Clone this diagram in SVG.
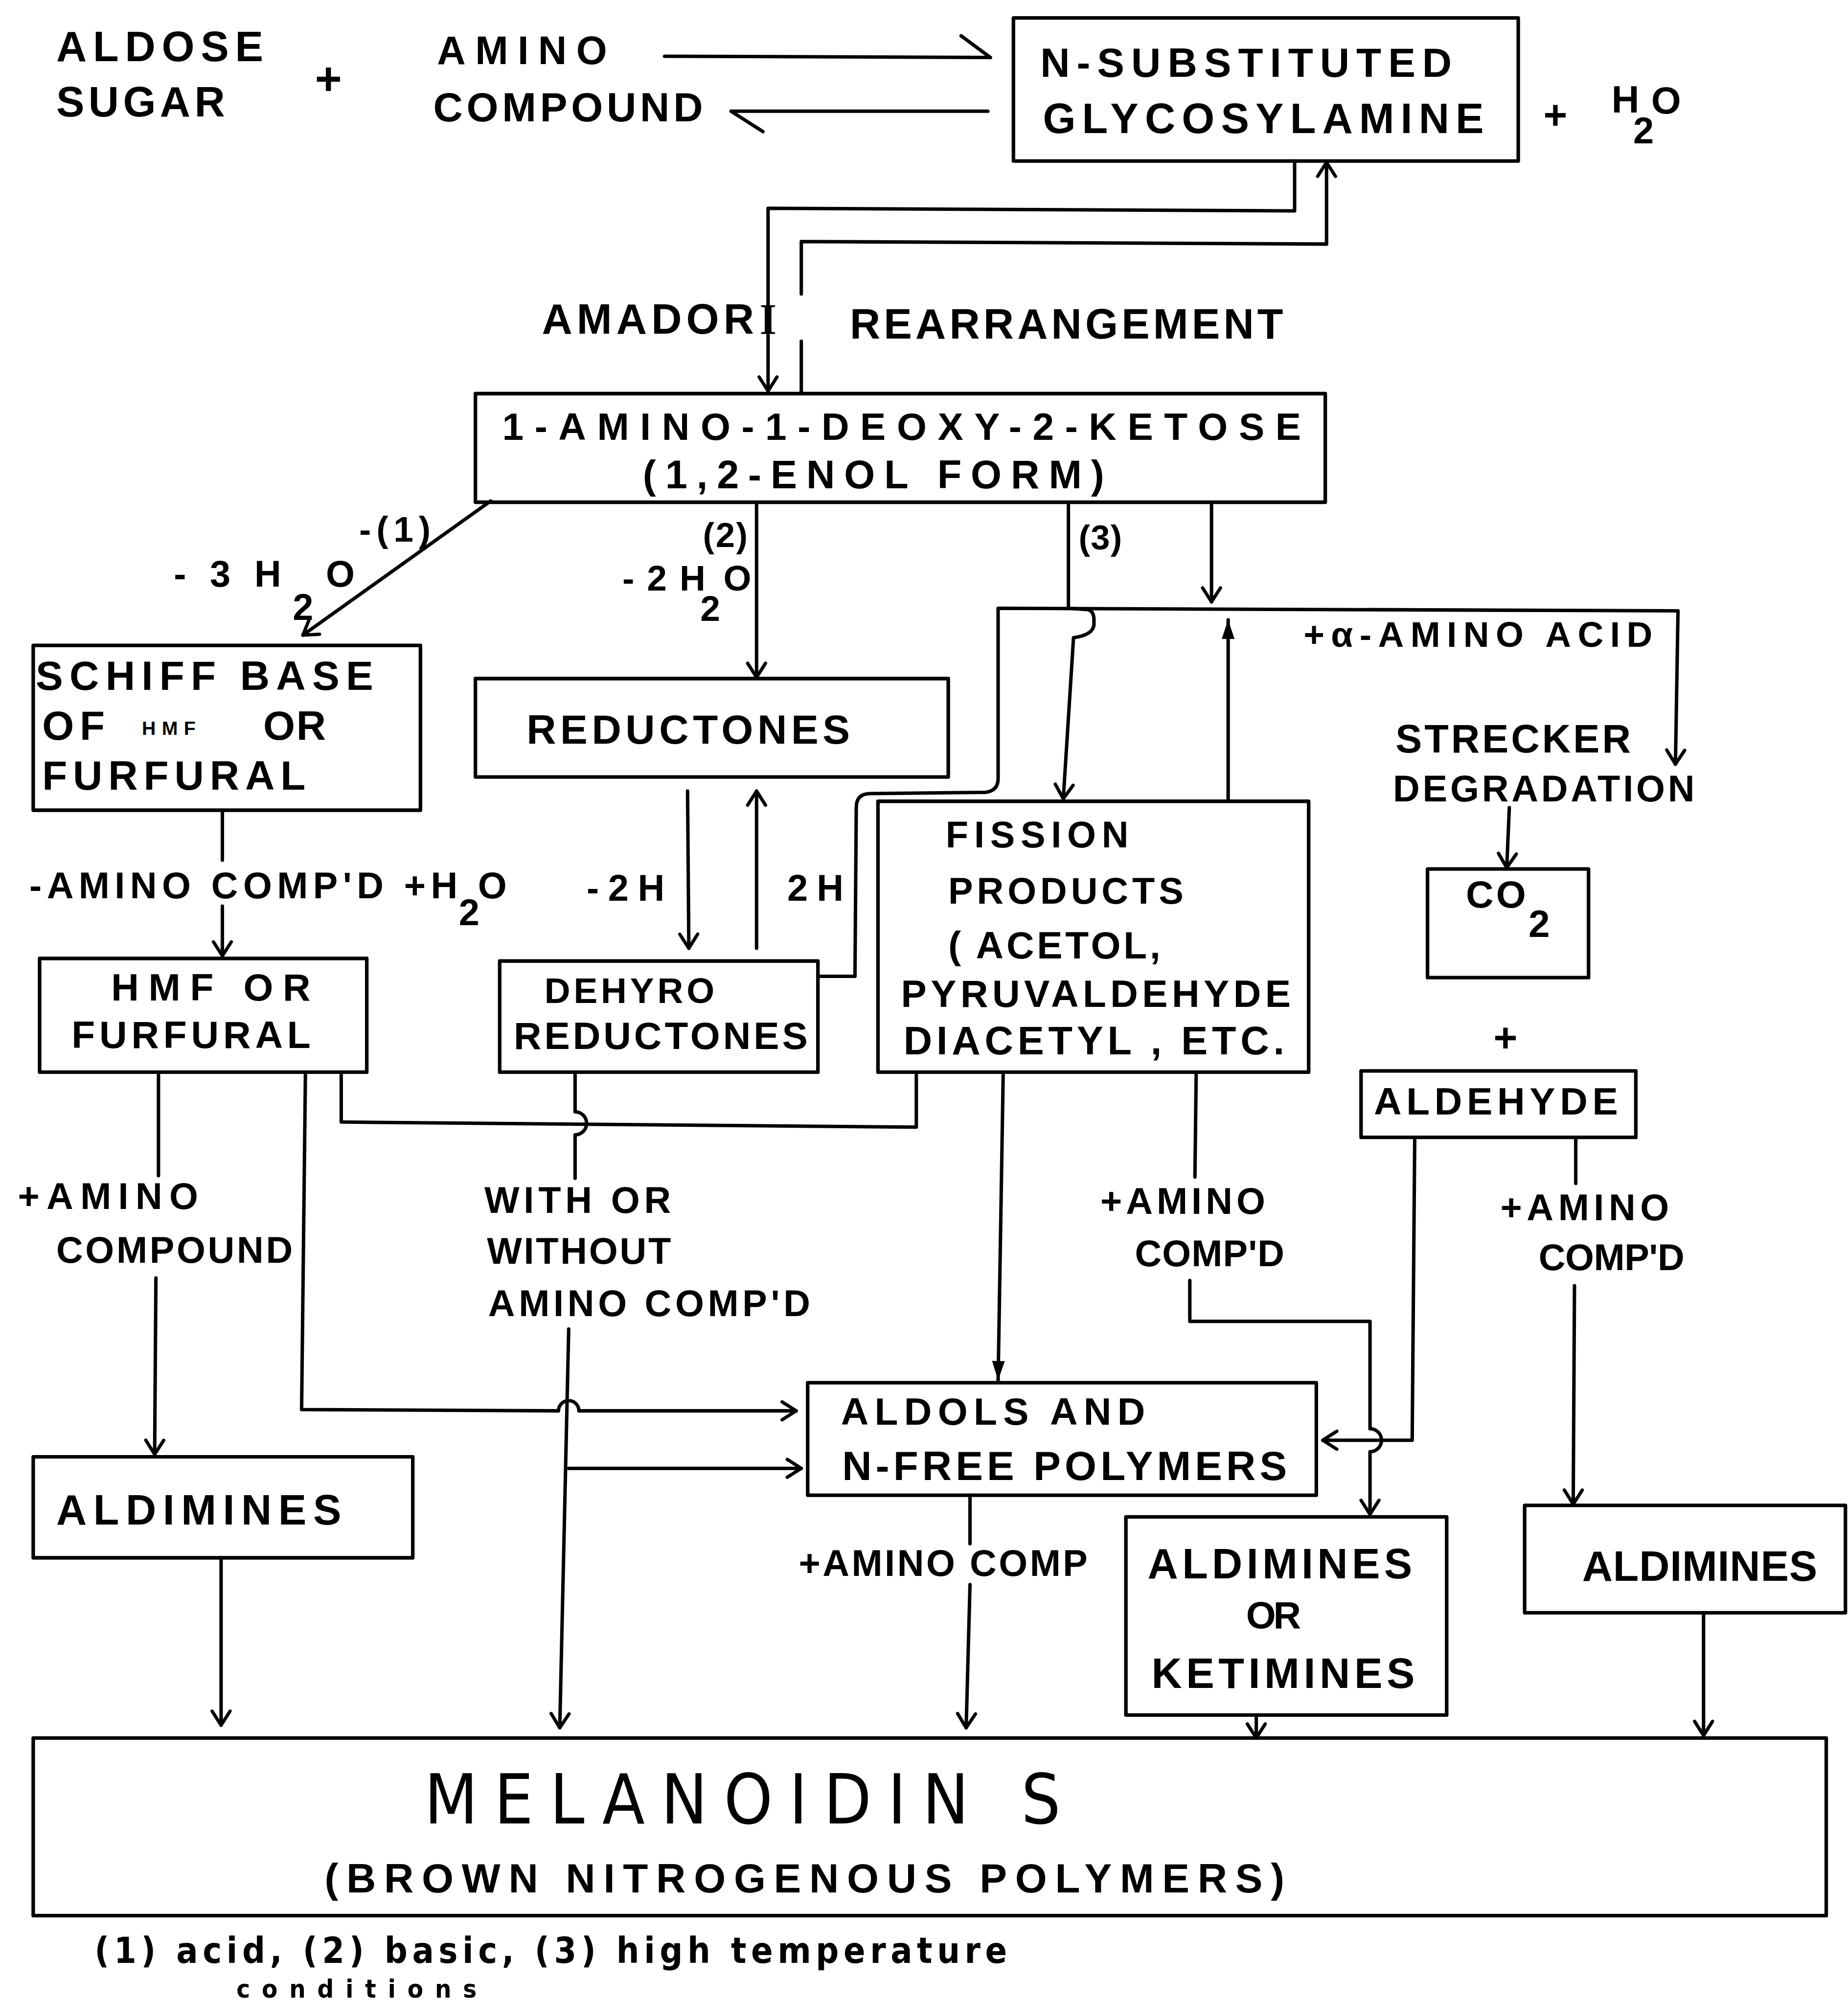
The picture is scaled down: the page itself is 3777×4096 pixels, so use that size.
<svg xmlns="http://www.w3.org/2000/svg" width="3777" height="4096" viewBox="0 0 3777 4096">
<style>
.b{fill:none;stroke:#000;stroke-width:2.8;stroke-linejoin:round}
.c{fill:none;stroke:#000;stroke-width:2.7;stroke-linejoin:round;stroke-linecap:round}
.a{marker-end:url(#av)}
.f{marker-end:url(#af)}
text{font-family:"Liberation Sans",Arial,sans-serif;font-weight:bold;fill:#000}
.m{font-weight:normal;font-family:"Liberation Sans Narrow","DejaVu Sans Condensed","Liberation Sans",sans-serif}
.n{font-family:"Liberation Sans Narrow","DejaVu Sans Condensed","Liberation Sans",sans-serif}
</style>
<defs>
<marker id="av" viewBox="-13 -9 15 18" refX="0" refY="0" markerWidth="15" markerHeight="18" orient="auto" markerUnits="userSpaceOnUse" overflow="visible">
<path d="M-11,-7 L0,0 L-11,7" fill="none" stroke="#000" stroke-width="2.6" stroke-linecap="round" stroke-linejoin="round"/>
</marker>
<marker id="af" viewBox="-16 -6 17 12" refX="0" refY="0" markerWidth="17" markerHeight="12" orient="auto" markerUnits="userSpaceOnUse" overflow="visible">
<path d="M-15,-5 L0,0 L-15,5 Z" fill="#000"/>
</marker>
</defs>
<rect width="3777" height="4096" fill="#fff"/>
<g transform="scale(2.612)">

<g id="reactants">
<text x="44" y="48" font-size="33" textLength="162" lengthAdjust="spacing">ALDOSE</text>
<text x="44" y="91" font-size="33" textLength="132" lengthAdjust="spacing">SUGAR</text>
<text x="257" y="74" font-size="36" text-anchor="middle">+</text>
<text x="342" y="50" font-size="31" textLength="133" lengthAdjust="spacing">AMINO</text>
<text x="339" y="95" font-size="32" textLength="211" lengthAdjust="spacing">COMPOUND</text>
</g>

<g id="n-substituted">
<rect class="b" x="793" y="14" width="395" height="112"/>
<text x="814" y="60" font-size="32" textLength="322" lengthAdjust="spacing">N-SUBSTITUTED</text>
<text x="816" y="104" font-size="33" textLength="345" lengthAdjust="spacing">GLYCOSYLAMINE</text>
</g>

<g id="water">
<text x="1217" y="101" font-size="32" text-anchor="middle">+</text>
<text x="1261" y="88" font-size="30">H</text>
<text x="1278" y="112" font-size="29">2</text>
<text x="1292" y="89" font-size="30">O</text>
</g>

<g id="amino-deoxy-ketose">
<rect class="b" x="372" y="308" width="665" height="85"/>
<text x="393" y="344" font-size="30" textLength="625" lengthAdjust="spacing">1-AMINO-1-DEOXY-2-KETOSE</text>
<text x="503" y="382" font-size="31" textLength="361" lengthAdjust="spacing">(1,2-ENOL FORM)</text>
</g>

<g id="schiff-base">
<rect class="b" x="26" y="505" width="303" height="129"/>
<text x="28" y="540" font-size="32" textLength="264" lengthAdjust="spacing">SCHIFF BASE</text>
<text x="33" y="579" font-size="32" textLength="49" lengthAdjust="spacing">OF</text>
<text x="111" y="575" font-size="15" textLength="42" lengthAdjust="spacing">HMF</text>
<text x="206" y="579" font-size="32" textLength="49" lengthAdjust="spacing">OR</text>
<text x="33" y="618" font-size="32" textLength="206" lengthAdjust="spacing">FURFURAL</text>
</g>

<g id="reductones">
<rect class="b" x="372" y="531" width="370" height="77"/>
<text x="412" y="582" font-size="32" textLength="253" lengthAdjust="spacing">REDUCTONES</text>
</g>

<g id="hmf">
<rect class="b" x="31" y="750" width="256" height="89"/>
<text x="87" y="783" font-size="30" textLength="156" lengthAdjust="spacing">HMF  OR</text>
<text x="56" y="820" font-size="30" textLength="187" lengthAdjust="spacing">FURFURAL</text>
</g>

<g id="dehydroreductones">
<rect class="b" x="391" y="752" width="249" height="87"/>
<text x="426" y="785" font-size="28" textLength="133" lengthAdjust="spacing">DEHYRO</text>
<text x="402" y="821" font-size="30" textLength="230" lengthAdjust="spacing">REDUCTONES</text>
</g>

<g id="fission-products">
<rect class="b" x="687" y="627" width="337" height="212"/>
<text x="740" y="663" font-size="29" textLength="143" lengthAdjust="spacing">FISSION</text>
<text x="742" y="707" font-size="29" textLength="184" lengthAdjust="spacing">PRODUCTS</text>
<text x="742" y="750" font-size="30" textLength="166" lengthAdjust="spacing">( ACETOL,</text>
<text x="705" y="788" font-size="30" textLength="305" lengthAdjust="spacing">PYRUVALDEHYDE</text>
<text x="707" y="825" font-size="31" textLength="298" lengthAdjust="spacing">DIACETYL , ETC.</text>
</g>

<g id="strecker">
<text x="1092" y="589" font-size="31" textLength="184" lengthAdjust="spacing">STRECKER</text>
<text x="1090" y="627" font-size="29" textLength="236" lengthAdjust="spacing">DEGRADATION</text>
</g>

<g id="co2">
<rect class="b" x="1117" y="680" width="126" height="85"/>
<text x="1147" y="710" font-size="30" textLength="47" lengthAdjust="spacing">CO</text>
<text x="1196" y="733" font-size="30">2</text>
</g>

<g id="plus-aldehyde">
<text x="1178" y="823" font-size="32" text-anchor="middle">+</text>
</g>

<g id="aldehyde">
<rect class="b" x="1065" y="838" width="215" height="52"/>
<text x="1075" y="872" font-size="30" textLength="191" lengthAdjust="spacing">ALDEHYDE</text>
</g>

<g id="aldimines-left">
<rect class="b" x="26" y="1140" width="297" height="79"/>
<text x="44" y="1193" font-size="33" textLength="223" lengthAdjust="spacing">ALDIMINES</text>
</g>

<g id="aldols">
<rect class="b" x="632" y="1082" width="398" height="88"/>
<text x="658" y="1115" font-size="30" textLength="238" lengthAdjust="spacing">ALDOLS  AND</text>
<text x="659" y="1158" font-size="32" textLength="348" lengthAdjust="spacing">N-FREE  POLYMERS</text>
</g>

<g id="aldimines-ketimines">
<rect class="b" x="881" y="1187" width="251" height="155"/>
<text x="898" y="1235" font-size="33" textLength="207" lengthAdjust="spacing">ALDIMINES</text>
<text x="975" y="1274" font-size="30" textLength="43" lengthAdjust="spacing">OR</text>
<text x="901" y="1321" font-size="33" textLength="206" lengthAdjust="spacing">KETIMINES</text>
</g>

<g id="aldimines-right">
<rect class="b" x="1193" y="1178" width="251" height="84"/>
<text x="1238" y="1237" font-size="33" textLength="184" lengthAdjust="spacing">ALDIMINES</text>
</g>

<g id="melanoidins">
<rect class="b" x="26" y="1360" width="1403" height="139"/>
<text class="m" x="332" y="1427" font-size="54" textLength="498" lengthAdjust="spacing">MELANOIDIN S</text>
<text x="254" y="1481" font-size="32" textLength="751" lengthAdjust="spacing">(BROWN  NITROGENOUS  POLYMERS)</text>
</g>

<g id="footnote">
<text class="n" x="74" y="1536" font-size="28" textLength="714" lengthAdjust="spacing">(1) acid, (2) basic, (3) high temperature</text>
<text class="n" x="185" y="1563" font-size="20" textLength="188" lengthAdjust="spacing">conditions</text>
</g>

<g id="connectors">
<path class="c" d="M520,44 L775,45 M752,28 L775,45"/>
<path class="c" d="M773,87 L572,87 L597,103"/>
<path class="c a" d="M1013,126 L1013,165 L601,163 L601,306"/>
<path class="c" d="M627,308 L627,267"/>
<path class="c a" d="M627,230 L627,189 L1038,191 L1038,127"/>
<path class="c a" d="M384,392 L237,497"/>
<path class="c a" d="M592,394 L592,530"/>
<path class="c a" d="M836,394 L836,476 L851,477 Q856,478 856,485 L856,489 Q855,497 840,499 L832,625"/>
<path class="c a" d="M948,394 L948,471"/>
<path class="c a" d="M640,764 L669,764 L670,632 Q670,621 681,621 L771,620 Q781,619 781,609 L781,476 L1313,478 L1311,598"/>
<path class="c f" d="M961,627 L961,485"/>
<path class="c a" d="M1181,632 L1179,679"/>
<path class="c" d="M174,634 L174,673"/>
<path class="c a" d="M174,709 L174,748"/>
<path class="c a" d="M538,619 L539,742"/>
<path class="c a" d="M592,742 L592,619"/>
<path class="c" d="M124,839 L124,920"/>
<path class="c a" d="M122,1000 L121,1138"/>
<path class="c a" d="M239,839 L236,1103 L437,1104 A8,8 0 0 1 453,1104 L623,1104"/>
<path class="c" d="M267,839 L267,878 L717,882 L717,839"/>
<path class="c" d="M450,839 L450,870 A9,9 0 0 1 450,888 L450,922"/>
<path class="c a" d="M445,1040 L438,1352"/>
<path class="c a" d="M445,1149 L627,1149"/>
<path class="c f" d="M785,839 L781,1080"/>
<path class="c" d="M936,839 L935,921"/>
<path class="c a" d="M931,1002 L931,1034 L1072,1034 L1072,1118 A9,9 0 0 1 1072,1136 L1072,1185"/>
<path class="c a" d="M1107,890 L1105,1127 L1035,1127"/>
<path class="c" d="M1233,890 L1233,926"/>
<path class="c a" d="M1232,1006 L1231,1177"/>
<path class="c a" d="M173,1219 L173,1350"/>
<path class="c" d="M759,1170 L759,1208"/>
<path class="c a" d="M759,1240 L756,1352"/>
<path class="c a" d="M983,1342 L983,1360"/>
<path class="c a" d="M1333,1262 L1333,1358"/>
</g>

<g id="labels">
<text x="424" y="261" font-size="33" textLength="166" lengthAdjust="spacing">AMADOR</text>
<text x="601" y="261" font-size="34" text-anchor="middle" style="font-family:'Liberation Serif',serif">I</text>
<text x="665" y="265" font-size="33" textLength="339" lengthAdjust="spacing">REARRANGEMENT</text>
<text x="281" y="424" font-size="28" textLength="56" lengthAdjust="spacing">-(1)</text>
<text x="136" y="459" font-size="29" textLength="84" lengthAdjust="spacing">- 3 H</text>
<text x="229" y="485" font-size="29">2</text>
<text x="255" y="459" font-size="29">O</text>
<text x="550" y="428" font-size="27" textLength="35" lengthAdjust="spacing">(2)</text>
<text x="487" y="462" font-size="28" textLength="65" lengthAdjust="spacing">-2H</text>
<text x="548" y="486" font-size="28">2</text>
<text x="566" y="462" font-size="28">O</text>
<text x="844" y="430" font-size="27" textLength="34" lengthAdjust="spacing">(3)</text>
<text x="1020" y="506" font-size="28" textLength="273" lengthAdjust="spacing">+α-AMINO ACID</text>
<text x="23" y="703" font-size="29" textLength="335" lengthAdjust="spacing">-AMINO COMP'D +H</text>
<text x="359" y="724" font-size="29">2</text>
<text x="374" y="703" font-size="29">O</text>
<text x="459" y="705" font-size="29" textLength="61" lengthAdjust="spacing">-2H</text>
<text x="616" y="705" font-size="29" textLength="44" lengthAdjust="spacing">2H</text>
<text x="14" y="946" font-size="29" textLength="141" lengthAdjust="spacing">+AMINO</text>
<text x="44" y="988" font-size="29" textLength="185" lengthAdjust="spacing">COMPOUND</text>
<text x="379" y="949" font-size="29" textLength="146" lengthAdjust="spacing">WITH OR</text>
<text x="381" y="989" font-size="29" textLength="144" lengthAdjust="spacing">WITHOUT</text>
<text x="382" y="1030" font-size="29" textLength="252" lengthAdjust="spacing">AMINO  COMP'D</text>
<text x="861" y="950" font-size="29" textLength="129" lengthAdjust="spacing">+AMINO</text>
<text x="888" y="991" font-size="29" textLength="117" lengthAdjust="spacing">COMP'D</text>
<text x="1174" y="955" font-size="29" textLength="132" lengthAdjust="spacing">+AMINO</text>
<text x="1204" y="994" font-size="29" textLength="114" lengthAdjust="spacing">COMP'D</text>
<text x="625" y="1233" font-size="29" textLength="226" lengthAdjust="spacing">+AMINO COMP</text>
</g>

</g>
</svg>
